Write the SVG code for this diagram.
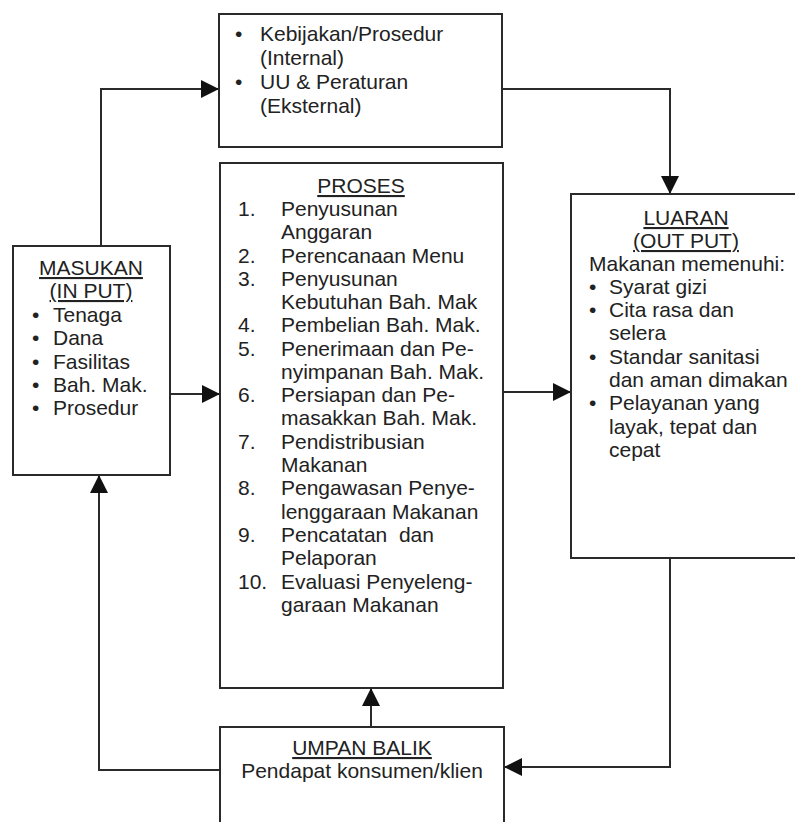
<svg xmlns="http://www.w3.org/2000/svg" width="795" height="822" viewBox="0 0 795 822">
<style>
.box{fill:#fff;stroke:#2a2a2a;stroke-width:2}
.t{font-family:"Liberation Sans",Arial,sans-serif;font-size:21px;fill:#222}
.c{text-anchor:middle}
.u{text-decoration:underline}
.ln{fill:none;stroke:#2a2a2a;stroke-width:2}
</style>
<defs>
<marker id="ah" markerUnits="userSpaceOnUse" markerWidth="18" markerHeight="18" refX="18" refY="9" orient="auto">
<path d="M0,0 L18,9 L0,18 z" fill="#111"/>
</marker>
</defs>
<rect width="795" height="822" fill="#fff"/>
<g id="connectors">
<path class="ln" d="M101,246 V89 H219" marker-end="url(#ah)"/>
<path class="ln" d="M502,89 H670 V194" marker-end="url(#ah)"/>
<path class="ln" d="M170,394 H220" marker-end="url(#ah)"/>
<path class="ln" d="M503,392 H571" marker-end="url(#ah)"/>
<path class="ln" d="M670,558 V767 H504" marker-end="url(#ah)"/>
<path class="ln" d="M371,727 V688" marker-end="url(#ah)"/>
<path class="ln" d="M220,770 H99 V475" marker-end="url(#ah)"/>
</g>
<g id="kebijakan">
<rect class="box" x="219" y="14" width="283" height="133"/>
<text class="t" x="235" y="41">•</text>
<text class="t" x="260" y="41">Kebijakan/Prosedur</text>
<text class="t" x="260" y="65">(Internal)</text>
<text class="t" x="235" y="89">•</text>
<text class="t" x="260" y="89">UU &amp; Peraturan</text>
<text class="t" x="260" y="113">(Eksternal)</text>
</g>
<g id="masukan">
<rect class="box" x="13" y="246" width="157" height="229"/>
<text class="t c u" x="91" y="275">MASUKAN</text>
<text class="t c u" x="91" y="298">(IN PUT)</text>
<text class="t" x="32" y="322">•</text>
<text class="t" x="53" y="322">Tenaga</text>
<text class="t" x="32" y="345">•</text>
<text class="t" x="53" y="345">Dana</text>
<text class="t" x="32" y="369">•</text>
<text class="t" x="53" y="369">Fasilitas</text>
<text class="t" x="32" y="392">•</text>
<text class="t" x="53" y="392">Bah. Mak.</text>
<text class="t" x="32" y="415">•</text>
<text class="t" x="53" y="415">Prosedur</text>
</g>
<g id="proses">
<rect class="box" x="220" y="163" width="283" height="525"/>
<text class="t c u" x="361" y="193">PROSES</text>
<text class="t" x="238" y="216">1.</text>
<text class="t" x="281" y="216">Penyusunan</text>
<text class="t" x="281" y="239">Anggaran</text>
<text class="t" x="238" y="263">2.</text>
<text class="t" x="281" y="263">Perencanaan Menu</text>
<text class="t" x="238" y="286">3.</text>
<text class="t" x="281" y="286">Penyusunan</text>
<text class="t" x="281" y="309">Kebutuhan Bah. Mak</text>
<text class="t" x="238" y="332">4.</text>
<text class="t" x="281" y="332">Pembelian Bah. Mak.</text>
<text class="t" x="238" y="356">5.</text>
<text class="t" x="281" y="356">Penerimaan dan Pe-</text>
<text class="t" x="281" y="379">nyimpanan Bah. Mak.</text>
<text class="t" x="238" y="402">6.</text>
<text class="t" x="281" y="402">Persiapan dan Pe-</text>
<text class="t" x="281" y="425">masakkan Bah. Mak.</text>
<text class="t" x="238" y="449">7.</text>
<text class="t" x="281" y="449">Pendistribusian</text>
<text class="t" x="281" y="472">Makanan</text>
<text class="t" x="238" y="495">8.</text>
<text class="t" x="281" y="495">Pengawasan Penye-</text>
<text class="t" x="281" y="519">lenggaraan Makanan</text>
<text class="t" x="238" y="542">9.</text>
<text class="t" x="281" y="542" style="white-space:pre">Pencatatan  dan</text>
<text class="t" x="281" y="565">Pelaporan</text>
<text class="t" x="238" y="589">10.</text>
<text class="t" x="281" y="589">Evaluasi Penyeleng-</text>
<text class="t" x="281" y="612">garaan Makanan</text>
</g>
<g id="luaran">
<rect class="box" x="571" y="194" width="240" height="364"/>
<text class="t c u" x="686" y="225">LUARAN</text>
<text class="t c u" x="686" y="248">(OUT PUT)</text>
<text class="t" x="589" y="271">Makanan memenuhi:</text>
<text class="t" x="589" y="294">•</text>
<text class="t" x="609" y="294">Syarat gizi</text>
<text class="t" x="589" y="317">•</text>
<text class="t" x="609" y="317">Cita rasa dan</text>
<text class="t" x="609" y="340">selera</text>
<text class="t" x="589" y="364">•</text>
<text class="t" x="609" y="364">Standar sanitasi</text>
<text class="t" x="609" y="387">dan aman dimakan</text>
<text class="t" x="589" y="410">•</text>
<text class="t" x="609" y="410">Pelayanan yang</text>
<text class="t" x="609" y="434">layak, tepat dan</text>
<text class="t" x="609" y="457">cepat</text>
</g>
<g id="umpan-balik">
<rect class="box" x="220" y="727" width="284" height="110"/>
<text class="t c u" x="362" y="755">UMPAN BALIK</text>
<text class="t c" x="362" y="778">Pendapat konsumen/klien</text>
</g>
</svg>
